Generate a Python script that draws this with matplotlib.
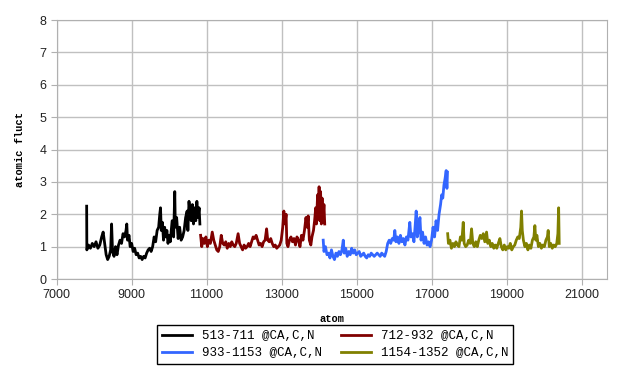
import matplotlib
matplotlib.use('Agg')
import matplotlib.pyplot as plt

# residues 513-711
atom1 = [7800, 7805, 7850, 7900, 7950, 8000, 8050, 8100, 8150, 8200, 8240, 8280,
         8320, 8360, 8400, 8440, 8465, 8490, 8530, 8570, 8610, 8650, 8690, 8730,
         8770, 8810, 8850, 8870, 8890, 8930, 8960, 9000, 9040, 9080, 9120, 9160,
         9200, 9240, 9280, 9320, 9360, 9400, 9440, 9480, 9520, 9560, 9600, 9640,
         9680, 9720, 9750, 9770, 9790, 9820, 9850, 9880, 9910, 9940, 9970, 10000,
         10030, 10080, 10120, 10150, 10165, 10200, 10240, 10280, 10320, 10360,
         10400, 10440, 10480, 10500, 10530, 10560, 10590, 10620, 10650, 10680,
         10710, 10740, 10770, 10800, 10820]
fluct1 = [2.25, 0.9, 1.05, 0.95, 1.1, 1.0, 1.15, 0.95, 1.05, 1.3, 1.45, 1.1,
          0.75, 0.6, 0.7, 0.9, 1.7, 0.85, 0.7, 1.0, 0.75, 1.05, 1.2, 1.1,
          1.4, 1.3, 1.5, 1.7, 1.2, 1.35, 1.0, 1.1, 0.85, 0.95, 0.75, 0.8,
          0.65, 0.7, 0.6, 0.7, 0.65, 0.8, 0.9, 0.95, 0.85, 1.0, 1.3, 1.15,
          1.5, 1.6, 2.0, 2.2, 1.5, 1.75, 1.2, 1.6, 1.3, 1.5, 1.1, 1.35,
          1.15, 1.8, 1.3, 2.7, 1.6, 1.9, 1.25, 1.6, 1.2, 1.3,
          1.5, 1.9, 2.1, 1.5, 2.4, 2.0, 1.8, 2.3, 1.7, 2.2,
          1.8, 2.4, 1.9, 2.2, 1.7]

# residues 712-932
atom2 = [10840, 10870, 10900, 10940, 10980, 11020, 11060, 11100, 11150, 11190,
         11230, 11270, 11310, 11350, 11390, 11430, 11470, 11510, 11550, 11590,
         11630, 11670, 11710, 11750, 11790, 11840, 11880, 11920, 11960, 12000,
         12040, 12080, 12120, 12160, 12200, 12240, 12280, 12320, 12360, 12400,
         12440, 12480, 12520, 12560, 12600, 12630, 12670, 12710, 12750, 12790,
         12830, 12870, 12910, 12950, 12990, 13030, 13060, 13090, 13120, 13140,
         13170, 13210, 13250, 13290, 13330, 13370, 13410, 13450, 13490, 13530,
         13570, 13610, 13650, 13680, 13710, 13740, 13780, 13810, 13850, 13880,
         13910, 13930, 13960, 13980, 14000, 14020, 14040, 14060, 14080, 14100,
         14130, 14150]
fluct2 = [1.35, 1.0, 1.25, 1.1, 1.3, 1.0, 1.2, 1.1, 1.45, 1.2,
          1.05, 0.9, 0.85, 1.0, 1.35, 1.1, 1.05, 1.15, 0.95, 1.1,
          1.0, 1.15, 1.05, 1.0, 1.1, 1.4, 1.1, 1.0, 0.9, 1.05,
          0.95, 1.0, 1.1, 1.0, 1.15, 1.3, 1.25, 1.35, 1.2, 1.05,
          1.1, 1.0, 1.15, 1.2, 1.55, 1.2, 1.15, 1.25, 1.1, 1.0,
          1.05, 0.95, 1.0, 1.05, 1.2, 1.6, 2.1, 1.7, 2.0, 1.1,
          1.0, 1.2, 1.3, 1.15, 1.25, 1.05, 1.3, 1.2, 1.0, 1.35,
          1.2, 1.5, 1.9, 1.6, 1.95, 1.2, 1.05, 1.3, 1.5, 1.8,
          2.2, 1.7, 2.6, 1.9, 2.85, 1.8, 2.7, 1.7, 2.5, 1.75,
          2.3, 1.7]

# residues 933-1153
atom3 = [14110, 14130, 14170, 14210, 14250, 14290, 14330, 14370, 14410, 14450,
         14490, 14530, 14570, 14610, 14645, 14670, 14710, 14750, 14790, 14830,
         14870, 14910, 14950, 14990, 15030, 15070, 15110, 15150, 15190, 15230,
         15270, 15310, 15350, 15390, 15430, 15470, 15510, 15550, 15590, 15630,
         15670, 15710, 15750, 15790, 15830, 15870, 15910, 15950, 15990, 16020,
         16050, 16090, 16130, 16170, 16210, 16250, 16290, 16330, 16370, 16420,
         16450, 16490, 16530, 16560, 16590, 16620, 16650, 16690, 16720, 16760,
         16800, 16840, 16880, 16920, 16960, 17000, 17040, 17080, 17120, 17160,
         17200, 17240, 17270, 17300, 17330, 17360, 17390, 17410, 17425]
fluct3 = [1.2, 0.85, 1.0, 0.75, 0.8, 0.65, 0.9, 0.7, 0.6, 0.8,
          0.7, 0.85, 0.75, 0.9, 1.2, 0.8, 0.95, 0.7, 0.85, 0.75,
          0.95, 0.8, 0.9, 0.75, 0.8, 0.85, 0.7, 0.75, 0.8, 0.7,
          0.65, 0.75, 0.7, 0.8, 0.75, 0.7, 0.75, 0.8, 0.75, 0.7,
          0.8, 0.75, 0.7, 0.85, 1.1, 1.2, 1.1, 1.25, 1.2, 1.5,
          1.15, 1.3, 1.1, 1.35, 1.15, 1.25, 1.05, 1.3, 1.2, 1.75,
          1.3, 1.4, 1.15, 1.6, 2.1, 1.3, 1.5, 1.9, 1.2, 1.45,
          1.1, 1.3, 1.05, 1.15, 1.0, 1.2, 1.6, 1.3, 1.8, 1.5,
          2.0, 2.3, 2.6, 2.5, 2.9, 3.1, 3.35, 2.8, 3.3]

# residues 1154-1352
atom4 = [17430, 17450, 17490, 17530, 17570, 17610, 17650, 17690, 17730, 17770,
         17810, 17845, 17870, 17910, 17950, 17990, 18030, 18067, 18100, 18140,
         18180, 18220, 18260, 18300, 18340, 18380, 18420, 18467, 18500, 18540,
         18580, 18620, 18660, 18700, 18740, 18780, 18823, 18860, 18900, 18940,
         18980, 19020, 19060, 19100, 19140, 19180, 19220, 19260, 19300, 19340,
         19380, 19400, 19420, 19450, 19490, 19530, 19570, 19610, 19650, 19690,
         19730, 19756, 19780, 19810, 19850, 19890, 19930, 19970, 20010, 20050,
         20090, 20111, 20140, 20180, 20220, 20260, 20300, 20340, 20370, 20390,
         20405]
fluct4 = [1.4, 1.1, 1.2, 0.95, 1.1, 1.0, 1.15, 1.05, 1.0, 1.3,
          1.2, 1.75, 1.1, 1.0, 1.05, 1.2, 1.1, 1.55, 1.1, 1.0,
          1.15, 1.0, 1.2, 1.35, 1.25, 1.4, 1.15, 1.45, 1.1, 1.2,
          1.0, 1.1, 0.95, 1.05, 0.95, 1.1, 1.25, 1.0, 0.9, 1.05,
          0.9, 1.0, 0.95, 1.1, 0.9, 1.0, 1.05, 1.2, 1.3, 1.25,
          1.6, 2.1, 1.5, 1.2, 1.0, 1.1, 0.9, 1.05, 0.95, 1.2,
          1.3, 1.65, 1.2, 1.35, 1.0, 1.1, 0.95, 1.05, 1.0, 1.2,
          1.3, 1.5, 1.0, 1.1, 0.95, 1.05, 1.0, 1.1, 1.4, 2.2,
          1.1]

labels = ['513-711 @CA,C,N', '712-932 @CA,C,N', '933-1153 @CA,C,N', '1154-1352 @CA,C,N']
colors = ['#000000', '#800000', '#3366ff', '#808000']
xticks = [7000, 9000, 11000, 13000, 15000, 17000, 19000, 21000]
yticks = [0, 1, 2, 3, 4, 5, 6, 7, 8]

fig = plt.figure(figsize=(6.18, 3.70), dpi=100)
ax = fig.add_axes([0.0917, 0.2459, 0.8905, 0.700])

lines = []
for xs, ys, c, lab in zip([atom1, atom2, atom3, atom4], [fluct1, fluct2, fluct3, fluct4], colors, labels):
    ln, = ax.plot(xs, ys, color=c, linewidth=2.0, label=lab)
    lines.append(ln)

ax.set_xlim(7000, 21680)
ax.set_ylim(0, 8)
ax.set_xticks(xticks)
ax.set_yticks(yticks)
ax.grid(True, color='#c0c0c0', linewidth=1.0)
ax.set_axisbelow(True)
for sp in ax.spines.values():
    sp.set_color('#b0b0b0')
ax.tick_params(colors='#b0b0b0', labelcolor='#222222', length=4, labelsize=9)
for t in ax.get_xticklabels() + ax.get_yticklabels():
    t.set_fontfamily('Liberation Sans')

ax.set_xlabel('atom', family='Liberation Mono', fontweight='bold', fontsize=7.5, labelpad=9)
ax.set_ylabel('atomic fluct', family='Liberation Mono', fontweight='bold', fontsize=7.5, labelpad=10)

# legend order: row 1 -> 513, 712 ; row 2 -> 933, 1154
order = [0, 2, 1, 3]
leg = fig.legend([lines[i] for i in order], [labels[i] for i in order], ncol=2,
                 loc='upper left', bbox_to_anchor=(157 / 618, 1 - 325 / 370),
                 prop={'family': 'Liberation Mono', 'size': 9},
                 frameon=True, fancybox=False, edgecolor='black', framealpha=1,
                 handlelength=2.4, handletextpad=0.8, columnspacing=1.5,
                 borderpad=0.4, labelspacing=0.4, borderaxespad=0)
leg.get_frame().set_linewidth(1.0)

fig.savefig('out.png', dpi=100)
